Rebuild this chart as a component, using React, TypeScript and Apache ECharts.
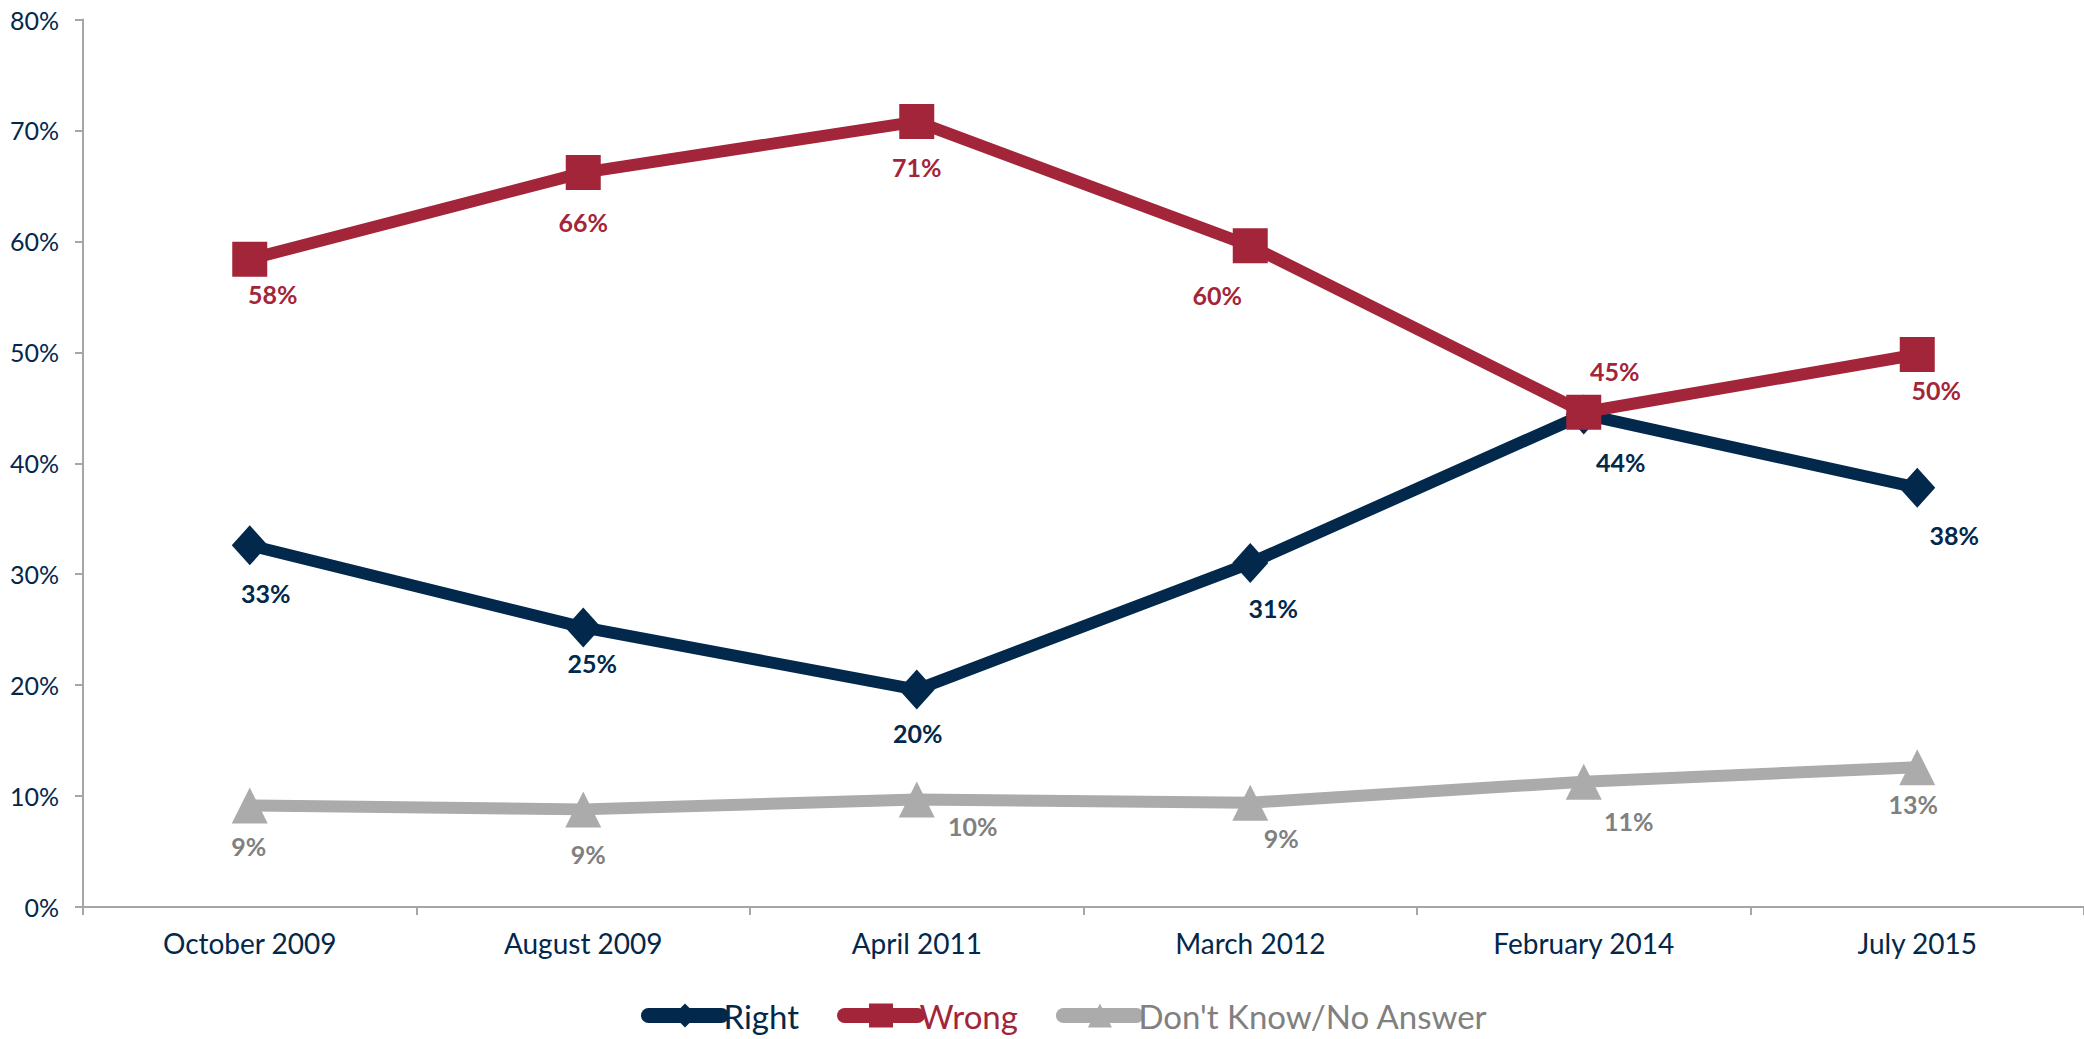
import React, { useEffect, useRef } from "react";
import * as echarts from "echarts";

// ---- data ----
const categories = ["October 2009", "August 2009", "April 2011", "March 2012", "February 2014", "July 2015"];
const rightValues = [32.6, 25.2, 19.6, 31.0, 44.4, 37.8];
const wrongValues = [58.4, 66.2, 70.8, 59.6, 44.6, 49.8];
const dkValues = [9.15, 8.8, 9.7, 9.4, 11.3, 12.6];
const yTicks = [0, 10, 20, 30, 40, 50, 60, 70, 80];
const seriesNames = ["Right", "Wrong", "Don't Know/No Answer"];

// ---- layout of data labels (pixel offsets from each point) ----
const rightLabelOffsets = [[16, 48], [9, 36], [1, 43], [23, 45], [37, 48], [37, 47]];
const wrongLabelOffsets = [[23, 35], [0, 49], [0, 45], [-33, 49], [31, -41], [19, 35]];
const dkLabelOffsets = [[-1, 41], [5, 45], [56, 27], [31, 35], [45, 39], [-4, 37]];

const NAVY = "#02284c";
const RED = "#a32539";
const GRAY_LINE = "#ababab";
const GRAY_TEXT = "#808080";
const AXIS = "#a6a6a6";
const FONT = "Lato";

function buildData(values: number[], offsets: number[][], color: string) {
  return values.map((v, i) => ({
    value: v,
    label: {
      show: true,
      position: "inside",
      offset: offsets[i],
      color,
      fontFamily: FONT,
      fontWeight: "bold",
      fontSize: 25,
      formatter: (p: any) => Math.round(p.value) + "%",
    },
  }));
}

export default function App() {
  const ref = useRef<HTMLDivElement>(null);
  useEffect(() => {
    document.body.style.margin = "0";
    const chart = echarts.init(ref.current!, undefined, { renderer: "svg" });
    chart.setOption({
      animation: false,
      backgroundColor: "#ffffff",
      grid: { left: 83, right: 0, top: 19.5, bottom: 132 },
      legend: {
        left: 641,
        top: 999,
        padding: 0,
        itemWidth: 73,
        itemHeight: 30,
        itemGap: 38,
        lineStyle: { width: 15, cap: "round" },
        data: [
          { name: seriesNames[0], textStyle: { color: NAVY } },
          { name: seriesNames[1], textStyle: { color: RED } },
          { name: seriesNames[2], textStyle: { color: GRAY_TEXT } },
        ],
        textStyle: { fontFamily: FONT, fontSize: 33, padding: [0, 0, 0, -3] },
      },
      xAxis: {
        type: "category",
        data: categories,
        boundaryGap: true,
        axisLine: { show: true, lineStyle: { color: AXIS, width: 2 } },
        axisTick: { show: true, length: 8, lineStyle: { color: AXIS, width: 2 } },
        axisLabel: { color: NAVY, fontFamily: FONT, fontSize: 28, margin: 22 },
        splitLine: { show: false },
      },
      yAxis: {
        type: "value",
        min: yTicks[0],
        max: yTicks[yTicks.length - 1],
        interval: 10,
        axisLine: { show: true, lineStyle: { color: AXIS, width: 2 } },
        axisTick: { show: true, length: 8, lineStyle: { color: AXIS, width: 2 } },
        axisLabel: { color: NAVY, fontFamily: FONT, fontSize: 25, margin: 24, formatter: "{value}%" },
        splitLine: { show: false },
      },
      series: [
        {
          name: seriesNames[0],
          type: "line",
          data: buildData(rightValues, rightLabelOffsets, NAVY),
          symbol: "diamond",
          symbolSize: [36, 40],
          lineStyle: { color: NAVY, width: 12 },
          itemStyle: { color: NAVY },
          z: 2,
        },
        {
          name: seriesNames[1],
          type: "line",
          data: buildData(wrongValues, wrongLabelOffsets, RED),
          symbol: "rect",
          symbolSize: 35,
          lineStyle: { color: RED, width: 12 },
          itemStyle: { color: RED },
          z: 3,
        },
        {
          name: seriesNames[2],
          type: "line",
          data: buildData(dkValues, dkLabelOffsets, GRAY_TEXT),
          symbol: "triangle",
          symbolSize: 36,
          lineStyle: { color: GRAY_LINE, width: 12 },
          itemStyle: { color: GRAY_LINE },
          z: 2,
        },
      ],
    });
    return () => chart.dispose();
  }, []);
  return <div ref={ref} style={{ width: 2084, height: 1039 }} />;
}
